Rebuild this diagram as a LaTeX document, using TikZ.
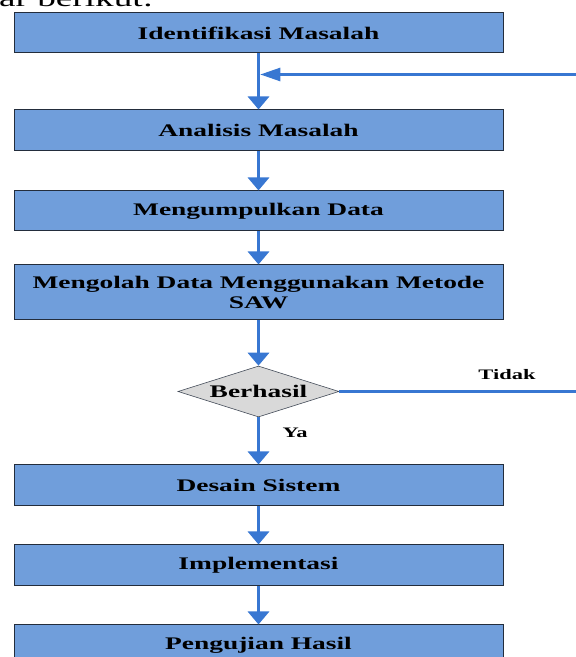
\documentclass[tikz,border=0pt]{standalone}
\usepackage{fontspec}
\setmainfont{Liberation Serif}[FakeStretch=1.55]
\usetikzlibrary{shapes.geometric,arrows.meta}

\definecolor{boxblue}{RGB}{112,158,219}
\definecolor{lineblue}{RGB}{56,119,210}
\definecolor{decgray}{RGB}{217,217,217}
\definecolor{edgedark}{RGB}{35,45,60}

\begin{document}
\begin{tikzpicture}[x=1pt, y=1pt,
    stepbox/.style={draw=edgedark, line width=1pt, fill=boxblue,
        minimum width=489pt, minimum height=41pt, inner sep=0pt,
        align=center, font=\fontsize{17.7}{20.5}\selectfont\bfseries},
    decide/.style={diamond, aspect=3.16, draw=edgedark!85, line width=0.6pt, fill=decgray,
        minimum width=161pt, minimum height=51pt, inner sep=0pt,
        font=\fontsize{17.7}{20.5}\selectfont\bfseries},
    flow/.style={lineblue, line width=3.5pt, -{Triangle[width=21pt,length=13pt]}},
    loopline/.style={lineblue, line width=2.5pt},
    lbl/.style={inner sep=0pt, font=\fontsize{14.5}{16}\selectfont\bfseries}]
    \useasboundingbox (0,0) rectangle (576,657);

    % Text above the chart (cut by the page)
    \node[anchor=base west, inner sep=0pt, font=\fontsize{24}{28}\selectfont]
        (intro) at (-1,650.5) {ar berikut:};

    % Steps
    \node[stepbox, minimum height=40pt] (ident) at (258.5,624) {Identifikasi Masalah};
    \node[stepbox] (anal) at (258.5,526.5) {Analisis Masalah};
    \node[stepbox, minimum height=40pt] (kumpul) at (258.5,446) {Mengumpulkan Data};
    \node[stepbox, minimum height=55pt] (olah) at (258.5,364.5)
        {Mengolah Data Menggunakan Metode\\SAW};
    \node[decide] (hasil) at (258.5,265.5) {Berhasil};
    \node[stepbox] (desain) at (258.5,171.5) {Desain Sistem};
    \node[stepbox] (impl) at (258.5,91.5) {Implementasi};
    \node[stepbox] (uji) at (258.5,11.5) {Pengujian Hasil};

    % Main flow
    \draw[flow] (ident) -- (anal);
    \draw[flow] (anal) -- (kumpul);
    \draw[flow] (kumpul) -- (olah);
    \draw[flow] (olah) -- (hasil);
    \draw[flow] (hasil) -- (desain);
    \draw[flow] (desain) -- (impl);
    \draw[flow] (impl) -- (uji);

    % Back loop when not successful
    \coordinate (outR) at (600,265.5);
    \path (ident.south) ++(1.75,-21) coordinate (join);
    \draw[loopline, -{Triangle[width=13pt,length=20pt]}]
        (hasil.east) -- (hasil.east -| outR) |- (join);

    % Labels
    \node[lbl] (tidak) at (507,282) {Tidak};
    \node[lbl] (ya) at (295,224) {Ya};
\end{tikzpicture}
\end{document}
